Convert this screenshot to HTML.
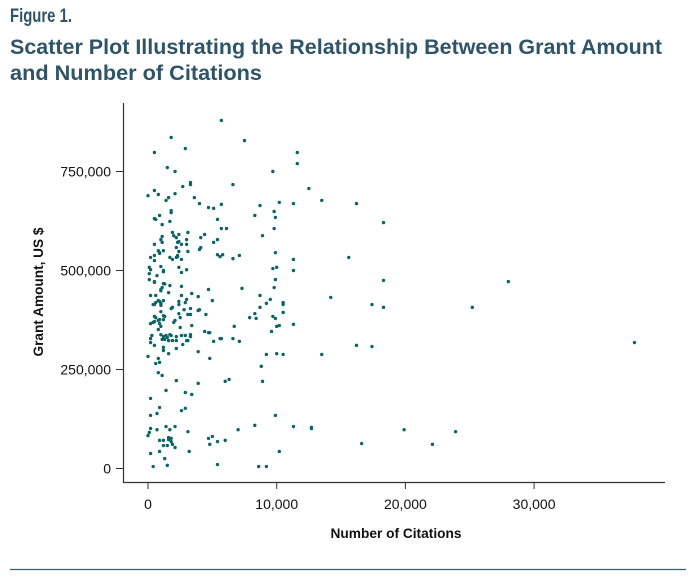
<!DOCTYPE html>
<html><head><meta charset="utf-8">
<style>
html,body{margin:0;padding:0;background:#fff;}
body{width:696px;height:583px;overflow:hidden;position:relative;font-family:"Liberation Sans",sans-serif;}
svg text{font-family:"Liberation Sans",sans-serif;}
</style></head>
<body>
<svg id="chart" width="696" height="583" viewBox="0 0 696 583" xmlns="http://www.w3.org/2000/svg">
  <text x="10" y="22" font-size="19" font-weight="bold" fill="#2f5468" textLength="62" lengthAdjust="spacingAndGlyphs">Figure 1.</text>
  <text x="10" y="54" font-size="21" font-weight="bold" fill="#2f5468" textLength="652" lengthAdjust="spacingAndGlyphs">Scatter Plot Illustrating the Relationship Between Grant Amount</text>
  <text x="10" y="80" font-size="21" font-weight="bold" fill="#2f5468" textLength="252" lengthAdjust="spacingAndGlyphs">and Number of Citations</text>
  <g id="axes"></g>
  <g id="points"></g>
  <text x="396" y="538" font-size="14" font-weight="bold" fill="#111" text-anchor="middle" textLength="131" lengthAdjust="spacingAndGlyphs">Number of Citations</text>
  <text transform="translate(43,292) rotate(-90)" font-size="14" font-weight="bold" fill="#111" text-anchor="middle" textLength="129" lengthAdjust="spacingAndGlyphs">Grant Amount, US $</text>
  <line x1="10" y1="569.5" x2="686" y2="569.5" stroke="#3c5a6e" stroke-width="1.2"/>
</svg>
<script>
// citations in thousands
const citations = [5.7,1.8,7.5,0.5,2.9,1.5,2.1,9.7,3.3,3.3,6.6,2.7,0.5,0.0,0.8,2.1,1.6,1.4,3.6,4.0,5.7,10.2,8.7,4.7,5.1,1.8,1.8,9.8,0.9,0.5,0.6,1.7,8.3,9.9,5.4,1.1,5.7,6.1,9.8,1.9,3.1,1.1,2.0,2.4,2.2,4.4,4.1,8.9,1.0,1.1,3.0,2.3,2.4,0.5,2.6,3.0,5.4,5.1,2.2,4.1,4.0,0.8,1.2,0.9,0.9,2.4,3.1,9.9,0.5,0.2,2.3,2.3,2.2,1.7,1.9,5.4,5.8,5.6,7.1,6.6,0.5,2.6,1.0,2.4,0.1,0.2,1.2,1.2,0.1,3.0,2.6,0.7,9.7,10.0,0.1,0.5,0.5,1.2,1.3,1.7,2.6,1.1,1.0,4.7,7.3,9.9,9.8,
0.2,0.6,1.0,1.6,2.6,3.4,3.9,5.0,8.7,0.8,0.9,1.2,1.0,1.0,0.6,0.4,0.5,2.4,2.4,3.0,2.9,1.9,1.8,2.8,3.3,3.9,4.0,9.5,9.2,8.7,10.5,10.5,10.5,1.0,2.4,3.1,3.3,2.5,4.5,8.3,7.9,8.4,9.7,9.9,0.5,0.6,0.9,1.2,1.3,1.2,0.5,0.8,0.4,0.2,0.9,1.0,0.8,2.0,2.1,2.5,3.4,6.7,10.2,10.0,9.6,4.4,4.7,4.8,0.3,0.2,0.2,0.5,1.0,1.2,1.3,1.2,1.4,1.5,1.1,1.7,1.8,1.6,1.9,2.2,2.2,2.6,2.9,3.0,3.1,3.3,3.3,2.7,2.2,1.6,1.2,1.2,5.6,5.7,5.1,6.6,7.1,0.0,0.8,0.9,0.6,3.9,4.8,9.2,10.0,10.5,8.8,0.8,1.1,2.2,3.9,6.0,6.3,8.9,1.4,2.9,3.4,0.2,0.9,0.7,0.2,2.9,2.6,9.9,0.2,0.1,0.0,0.7,1.4,1.7,2.1,3.1,7.0,8.3,0.9,1.2,1.6,1.8,1.6,1.8,1.2,1.5,1.9,2.1,4.7,5.0,4.8,5.4,6.0,0.9,0.2,3.2,10.2,1.3,0.4,1.5,5.4,8.6,9.2,
11.6,11.6,12.5,11.3,13.5,16.2,18.3,11.3,11.3,15.6,18.3,28.0,14.2,17.4,18.3,25.2,11.3,16.2,17.4,13.5,37.8,11.3,12.7,12.7,19.9,23.9,16.6,22.1];
// grant amounts in thousands of US $
const grants = [879,836,828,798,808,760,750,750,722,717,717,712,702,689,692,694,684,677,684,669,667,672,664,659,657,651,646,649,639,631,629,624,639,634,629,616,606,606,606,596,596,586,588,591,583,591,583,588,578,571,578,571,573,566,566,566,578,571,558,558,553,550,550,545,543,548,548,545,538,533,538,535,533,533,528,540,540,535,538,530,525,528,510,508,508,502,500,497,492,502,495,487,505,508,477,472,470,467,466,462,460,457,452,452,455,477,457,
437,437,449,444,437,442,434,424,437,424,422,424,417,412,419,414,414,422,414,427,419,407,404,401,404,399,401,427,417,407,419,414,394,396,391,389,389,381,389,391,381,379,384,379,384,381,376,386,384,376,371,374,369,366,366,359,351,369,374,356,361,359,361,359,346,346,343,343,336,328,318,311,338,333,326,328,336,331,326,338,336,323,323,323,333,336,336,323,323,333,338,313,303,290,306,298,328,328,321,328,321,283,278,268,265,295,278,288,290,288,258,242,235,222,215,220,225,220,197,192,187,177,154,139,134,152,146,134,101,91,83,98,106,98,106,93,98,109,71,71,78,76,73,68,58,58,61,53,76,81,61,68,71,43,38,43,43,25,5,8,10,5,5,
798,770,707,669,677,669,621,528,500,533,475,472,432,414,407,407,364,311,308,288,318,106,104,101,98,93,63,61];
const xTicks = [0,10,20,30];
const xTickLabels = ["0","10,000","20,000","30,000"];
const yTicks = [0,250,500,750];
const yTickLabels = ["0","250,000","500,000","750,000"];

const NS = "http://www.w3.org/2000/svg";
const x0 = 148, xPerK = 12.87;
const y0 = 468.5, yPerK = 0.396;
function xScale(v){ return x0 + v * xPerK; }
function yScale(v){ return y0 - v * yPerK; }
function mk(tag, attrs){ const e = document.createElementNS(NS, tag); for (const k in attrs) e.setAttribute(k, attrs[k]); return e; }

const axes = document.getElementById('axes');
const yAxis = mk('line', {x1:123.5, y1:103, x2:123.5, y2:483, stroke:'#333', 'stroke-width':1.2});


axes.appendChild(yAxis);
const xAxis = mk('line', {x1:123, y1:482.5, x2:665, y2:482.5, stroke:'#333', 'stroke-width':1.2});


axes.appendChild(xAxis);

xTicks.forEach((t, i) => {
  const x = xScale(t);
  const tk = mk('line', {x1:x, y1:483, x2:x, y2:489, stroke:'#333', 'stroke-width':1});
  
  
  axes.appendChild(tk);
  const lb = mk('text', {x:x, y:509, 'font-size':14, 'text-anchor':'middle', fill:'#111'});
  
  
  lb.textContent = xTickLabels[i];
  axes.appendChild(lb);
});
yTicks.forEach((t, i) => {
  const y = yScale(t);
  const tk = mk('line', {x1:116, y1:y, x2:123, y2:y, stroke:'#333', 'stroke-width':1});
  
  
  axes.appendChild(tk);
  const lb = mk('text', {x:111, y:y + 5, 'font-size':14, 'text-anchor':'end', fill:'#111'});
  
  
  lb.textContent = yTickLabels[i];
  axes.appendChild(lb);
});

const pts = document.getElementById('points');
citations.forEach((c, i) => {
  const p = mk('circle', {cx:xScale(c), cy:yScale(grants[i]), r:1.7, fill:'#0d6466'});
  
  
  pts.appendChild(p);
});
</script>
</body></html>
